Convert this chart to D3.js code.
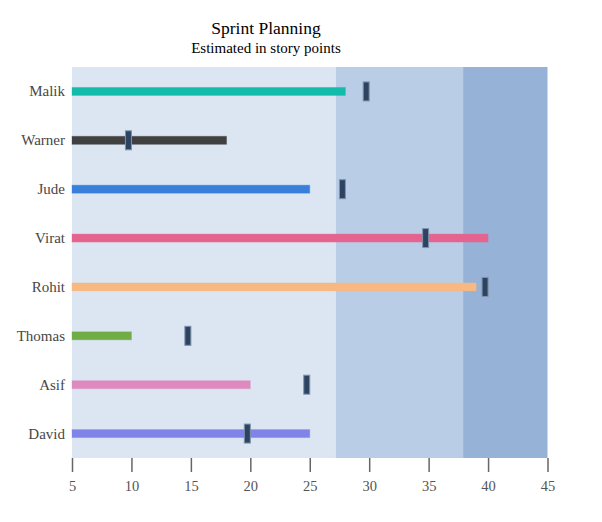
<!DOCTYPE html>
<html>
<head>
<meta charset="utf-8">
<script src="https://cdn.jsdelivr.net/npm/d3@7/dist/d3.min.js"></script>
<style>
  html, body { margin: 0; padding: 0; background: #fff; }
  svg { display: block; }
</style>
</head>
<body>
<div id="chart"></div>
<script>
const categories = ["Malik", "Warner", "Jude", "Virat", "Rohit", "Thomas", "Asif", "David"];
const values = [28, 18, 25, 40, 39, 10, 20, 25];
const targets = [30, 10, 28, 35, 40, 15, 25, 20];
const barColors = ["#13bbaa", "#404040", "#377fdb", "#e5648f", "#f8b882", "#70ad47", "#de8abf", "#8083e8"];
const rangeEnds = [27.2, 37.9, 45];
const rangeColors = ["#dbe6f2", "#bacde6", "#97b2d7"];
const tickValues = [5, 10, 15, 20, 25, 30, 35, 40, 45];

const W = 602, H = 522;
const margin = { left: 72, right: 54.5, top: 67, bottom: 64 };
const svg = d3.select("#chart").append("svg").attr("width", W).attr("height", H);

const x = d3.scaleLinear().domain([5, 45]).range([margin.left, W - margin.right]);
const y = d3.scaleBand().domain(categories).range([margin.top, H - margin.bottom]).padding(0);

const serif = "Liberation Serif, Times New Roman, serif";

// title
svg.append("text").attr("x", 266).attr("y", 34).attr("text-anchor", "middle")
  .attr("font-family", serif).attr("font-size", 17.5).attr("fill", "#000")
  .text("Sprint Planning");
svg.append("text").attr("x", 266).attr("y", 53).attr("text-anchor", "middle")
  .attr("font-family", serif).attr("font-size", 15).attr("fill", "#000")
  .text("Estimated in story points");

// qualitative ranges
let prev = 5;
const ranges = rangeEnds.map((e, i) => { const r = { start: prev, end: e, color: rangeColors[i] }; prev = e; return r; });
svg.append("g").selectAll("rect").data(ranges).join("rect")
  .attr("x", d => x(d.start)).attr("width", d => x(d.end) - x(d.start))
  .attr("y", margin.top).attr("height", H - margin.bottom - margin.top)
  .attr("fill", d => d.color);

const data = categories.map((c, i) => ({ name: c, value: values[i], target: targets[i], color: barColors[i] }));

// bars
const barH = 8;
svg.append("g").selectAll("rect").data(data).join("rect")
  .attr("x", x(5)).attr("width", d => x(d.value) - x(5))
  .attr("y", d => y(d.name) + y.bandwidth() / 2 - barH / 2).attr("height", barH)
  .attr("fill", d => d.color)
  .attr("stroke", d => d.color).attr("stroke-opacity", 0.35).attr("stroke-width", 1);

// target markers
const mW = 6, mH = 19;
svg.append("g").selectAll("rect").data(data).join("rect")
  .attr("x", d => x(d.target) - mW).attr("width", mW)
  .attr("y", d => y(d.name) + y.bandwidth() / 2 - mH / 2).attr("height", mH)
  .attr("fill", "#2c4462")
  .attr("stroke", "#8093ab").attr("stroke-width", 1);

// category labels
svg.append("g").selectAll("text").data(categories).join("text")
  .attr("x", 65).attr("y", d => y(d) + y.bandwidth() / 2)
  .attr("dy", "0.33em").attr("text-anchor", "end")
  .attr("font-family", serif).attr("font-size", 15)
  .attr("fill", "#474747").text(d => d);

// x axis
const axis = svg.append("g").attr("transform", `translate(0,${H - margin.bottom})`)
  .call(d3.axisBottom(x).tickValues(tickValues).tickSize(14).tickPadding(9).tickFormat(d3.format("d")));
axis.select(".domain").remove();
axis.selectAll(".tick line").attr("stroke", "#666").attr("stroke-width", 1.5);
axis.selectAll(".tick text").attr("font-family", serif)
  .attr("font-size", 14.5).attr("fill", "#555");
</script>
</body>
</html>
